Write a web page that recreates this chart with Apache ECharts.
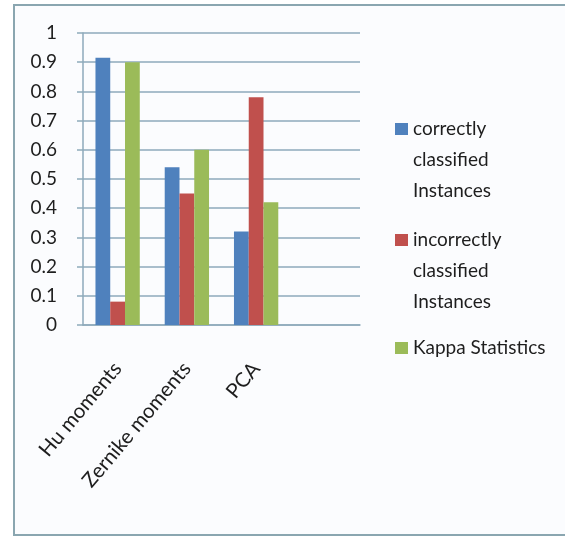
<!DOCTYPE html>
<html>
<head>
<meta charset="utf-8">
<script src="https://cdn.jsdelivr.net/npm/echarts@6/dist/echarts.min.js"></script>
<style>
  html, body { margin: 0; padding: 0; background: #ffffff; }
  #chart { width: 565px; height: 537px; }
</style>
</head>
<body>
<div id="chart"></div>
<script>
// Classification results per feature extraction method
const categories = ['Hu moments', 'Zernike moments', 'PCA', ''];
const correctlyClassified = [0.915, 0.54, 0.32, null];
const incorrectlyClassified = [0.08, 0.45, 0.78, null];
const kappaStatistics = [0.9, 0.6, 0.42, null];

const seriesNames = [
  'correctly\nclassified\nInstances',
  'incorrectly\nclassified\nInstances',
  'Kappa Statistics'
];
const seriesColors = ['#4f81bd', '#c0504d', '#9bbb59'];

const FONT = 'Lato, "Liberation Sans", sans-serif';
const TEXT_COLOR = '#1e1e1e';
const GRID_COLOR = '#8eaabb';
const LINE_H = 31;

// One legend block per series. Legend text is centred on its swatch, so
// blank lines are prepended to bring the first text line level with it.
function legendBlock(name, swatchCenterY) {
  const lines = name.split('\n').length;
  const pad = lines - 1;
  const totalLines = lines + pad;
  return {
    orient: 'vertical',
    left: 395,
    top: swatchCenterY - totalLines * LINE_H / 2,
    padding: 0,
    itemWidth: 13,
    itemHeight: 12,
    icon: 'rect',
    selectedMode: false,
    data: [name],
    formatter: (n) => '\n'.repeat(pad) + n,
    textStyle: {
      fontFamily: FONT,
      fontSize: 19,
      color: TEXT_COLOR,
      lineHeight: LINE_H
    }
  };
}

const chart = echarts.init(document.getElementById('chart'), null, { renderer: 'canvas' });

chart.setOption({
  backgroundColor: '#ffffff',
  animation: false,
  graphic: [{
    type: 'rect',
    silent: true,
    z: -10,
    shape: { x: 14, y: 5, width: 570, height: 530 },
    style: { fill: '#fbfcfe', stroke: '#8aa6b0', lineWidth: 2 }
  }],
  grid: { left: 83, right: 205, top: 33, bottom: 212, containLabel: false },
  legend: [
    legendBlock(seriesNames[0], 129),
    legendBlock(seriesNames[1], 240),
    legendBlock(seriesNames[2], 348)
  ],
  xAxis: {
    type: 'category',
    data: categories,
    axisLine: { lineStyle: { color: GRID_COLOR, width: 1.5 } },
    axisTick: { length: 8, lineStyle: { color: GRID_COLOR, width: 1.5 } },
    axisLabel: {
      rotate: 50,
      margin: 40,
      padding: [10, 0, 0, 0],
      fontFamily: FONT,
      fontSize: 20.5,
      color: TEXT_COLOR,
      interval: 0
    }
  },
  yAxis: {
    type: 'value',
    min: 0,
    max: 1,
    interval: 0.1,
    axisLine: { show: true, lineStyle: { color: GRID_COLOR, width: 1.5 } },
    axisTick: { show: true, length: 6, lineStyle: { color: GRID_COLOR, width: 1.5 } },
    splitLine: { lineStyle: { color: GRID_COLOR, width: 1.5 } },
    axisLabel: {
      margin: 26,
      fontFamily: FONT,
      fontSize: 19,
      color: TEXT_COLOR
    }
  },
  series: [
    { name: seriesNames[0], type: 'bar', data: correctlyClassified, barGap: '0%', barCategoryGap: '36%', itemStyle: { color: seriesColors[0] } },
    { name: seriesNames[1], type: 'bar', data: incorrectlyClassified, barGap: '0%', barCategoryGap: '36%', itemStyle: { color: seriesColors[1] } },
    { name: seriesNames[2], type: 'bar', data: kappaStatistics, barGap: '0%', barCategoryGap: '36%', itemStyle: { color: seriesColors[2] } }
  ]
});
</script>
</body>
</html>
